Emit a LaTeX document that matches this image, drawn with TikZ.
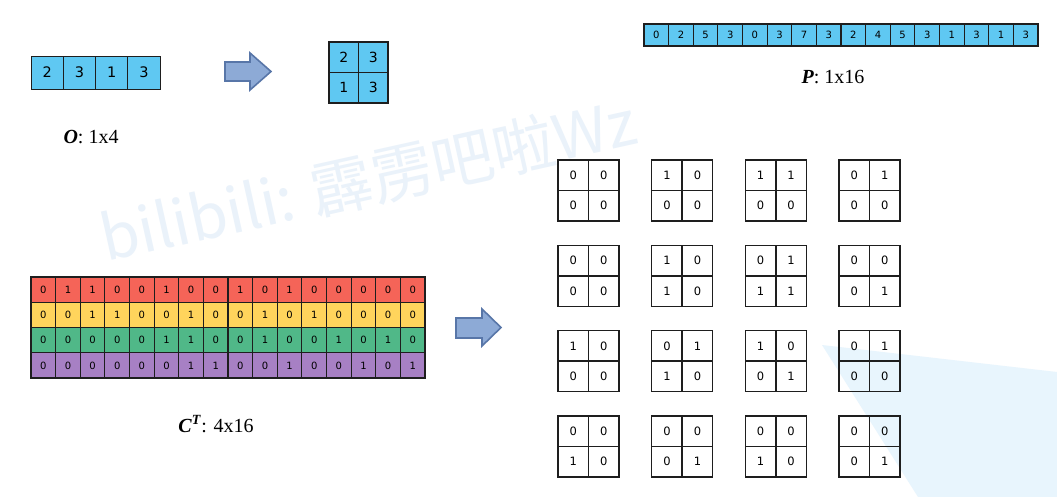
\documentclass[tikz,border=0pt]{standalone}
\usepackage{fontspec}
\setmainfont{Liberation Serif}
\newfontfamily\digitfont{DejaVu Sans}
\newfontfamily\wmfont{Noto Sans CJK SC}
\definecolor{cellblue}{RGB}{95,200,242}
\definecolor{linecol}{RGB}{30,30,30}
\definecolor{cred}{RGB}{245,100,88}
\definecolor{cyellow}{RGB}{255,212,92}
\definecolor{cgreen}{RGB}{80,184,136}
\definecolor{cpurple}{RGB}{167,128,196}
\definecolor{arrfill}{RGB}{141,170,214}
\definecolor{arrdraw}{RGB}{88,118,168}
\definecolor{wmcol}{RGB}{234,242,250}
\definecolor{tricol}{RGB}{232,245,253}
\tikzset{
  ocell/.style={draw=linecol, line width=0.7pt, fill=cellblue, minimum width=32.25pt, minimum height=33pt, inner sep=0pt, font=\digitfont\fontsize{14.5}{14.5}\selectfont},
  bcell/.style={draw=linecol, line width=1.4pt, fill=cellblue, minimum width=29.5pt, minimum height=30.5pt, inner sep=0pt, font=\digitfont\fontsize{14}{14}\selectfont},
  pcell/.style={draw=linecol, line width=1.2pt, fill=cellblue, minimum width=24.625pt, minimum height=22pt, inner sep=0pt, font=\digitfont\fontsize{10}{10}\selectfont},
  ccell/.style={draw=linecol, line width=1.2pt, minimum width=24.625pt, minimum height=25.25pt, inner sep=0pt, font=\digitfont\fontsize{10}{10}\selectfont},
  gcell/.style={draw=linecol, line width=1.5pt, minimum width=30.5pt, minimum height=30.5pt, inner sep=0pt, font=\digitfont\fontsize{11.5}{11.5}\selectfont},
  lbl/.style={inner sep=0pt, font=\fontsize{20}{20}\selectfont},
  blockarrow/.style={fill=arrfill, draw=arrdraw, line width=1.6pt, line join=miter},
}
\begin{document}
\begin{tikzpicture}[x=1pt,y=-1pt]
\useasboundingbox (0,0) rectangle (1057,497);
\fill[white] (0,0) rectangle (1057,497);
% background decorations
\fill[tricol] (822,345) -- (1057,372) -- (1057,497) -- (918,497) -- cycle;
\node[anchor=base west, rotate=12.5, inner sep=0pt, text=wmcol, font=\wmfont\fontsize{62}{62}\selectfont] (wm) at (106,262) {bilibili: 霹雳吧啦Wz};
% O array
\foreach \v [count=\i from 0] in {2,3,1,3}
  \node[ocell] (o\i) at ({31+32.25*(\i+0.5)},72.5) {\v};
\node[lbl] (olbl) at (91,137) {\textbf{\textit{O}}: 1x4};
% arrow 1
\draw[blockarrow] (225,62) -- (250,62) -- (250,53) -- (271,71.5) -- (250,90) -- (250,81) -- (225,81) -- cycle;
% 2x2 blue
\node[bcell] (b0) at (343.75,57.25) {2};
\node[bcell] (b1) at (373.25,57.25) {3};
\node[bcell] (b2) at (343.75,87.75) {1};
\node[bcell] (b3) at (373.25,87.75) {3};
% P array
\foreach \v [count=\i from 0] in {0,2,5,3,0,3,7,3,2,4,5,3,1,3,1,3}
  \node[pcell] (p\i) at ({644+24.625*(\i+0.5)},35) {\v};
\node[lbl] (plbl) at (833,77) {\textbf{\textit{P}}: 1x16};
% C^T matrix
\foreach \r/\c/\vals in {0/cred/{0,1,1,0,0,1,0,0,1,0,1,0,0,0,0,0},1/cyellow/{0,0,1,1,0,0,1,0,0,1,0,1,0,0,0,0},2/cgreen/{0,0,0,0,0,1,1,0,0,1,0,0,1,0,1,0},3/cpurple/{0,0,0,0,0,0,1,1,0,0,1,0,0,1,0,1}}{
  \foreach \v [count=\i from 0] in \vals
    \node[ccell, fill=\c] (c\r-\i) at ({31+24.625*(\i+0.5)},{277+25.25*(\r+0.5)}) {\v};
}
\node[lbl] (clbl) at (216,424) {\textbf{\textit{C}}\textsuperscript{\textbf{\textit{T}}}: 4x16};
% arrow 2
\draw[blockarrow] (456,318) -- (482,318) -- (482,309) -- (501,327.5) -- (482,346) -- (482,338) -- (456,338) -- cycle;
% 2x2 grids
\foreach \gr/\gc/\a/\b/\cc/\d in {
  0/0/0/0/0/0, 0/1/1/0/0/0, 0/2/1/1/0/0, 0/3/0/1/0/0,
  1/0/0/0/0/0, 1/1/1/0/1/0, 1/2/0/1/1/1, 1/3/0/0/0/1,
  2/0/1/0/0/0, 2/1/0/1/1/0, 2/2/1/0/0/1, 2/3/0/1/0/0,
  3/0/0/0/1/0, 3/1/0/0/0/1, 3/2/0/0/1/0, 3/3/0/0/0/1}{
  \pgfmathsetmacro{\gx}{558+93.67*\gc}
  \pgfmathsetmacro{\gy}{160+85.33*\gr}
  \node[gcell] (g\gr\gc a) at ({\gx+15.25},{\gy+15.25}) {\a};
  \node[gcell] (g\gr\gc b) at ({\gx+45.75},{\gy+15.25}) {\b};
  \node[gcell] (g\gr\gc c) at ({\gx+15.25},{\gy+45.75}) {\cc};
  \node[gcell] (g\gr\gc d) at ({\gx+45.75},{\gy+45.75}) {\d};
}
\end{tikzpicture}
\end{document}
